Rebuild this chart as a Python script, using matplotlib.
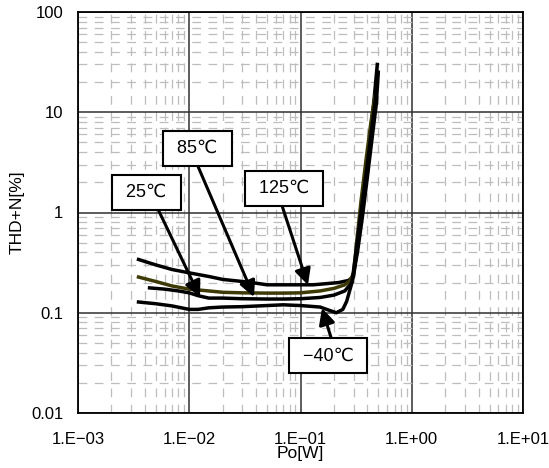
import matplotlib
matplotlib.use("Agg")
import matplotlib.pyplot as plt
from matplotlib.ticker import FixedLocator, FixedFormatter, LogLocator, NullFormatter

plt.rcParams['font.family'] = ['Liberation Sans', 'DejaVu Sans']

# ---- data ----
x_125 = [0.0035, 0.005, 0.007, 0.01, 0.015, 0.02, 0.03, 0.04, 0.05, 0.07, 0.1, 0.13, 0.17, 0.22, 0.27, 0.30, 0.32, 0.34, 0.37, 0.40, 0.43, 0.46, 0.49]
y_125 = [0.34, 0.30, 0.27, 0.25, 0.23, 0.215, 0.205, 0.197, 0.19, 0.19, 0.19, 0.19, 0.195, 0.20, 0.21, 0.23, 0.4, 0.8, 1.6, 3.5, 7, 14, 30]

x_85 = [0.0035, 0.005, 0.007, 0.01, 0.015, 0.02, 0.03, 0.05, 0.07, 0.1, 0.15, 0.2, 0.25, 0.28, 0.30, 0.325, 0.35, 0.39, 0.43, 0.47]
y_85 = [0.227, 0.205, 0.185, 0.172, 0.165, 0.16, 0.158, 0.157, 0.157, 0.158, 0.165, 0.175, 0.19, 0.21, 0.25, 0.6, 1.3, 3.5, 8, 15]

x_25 = [0.0044, 0.006, 0.008, 0.01, 0.012, 0.015, 0.02, 0.03, 0.05, 0.07, 0.1, 0.15, 0.2, 0.25, 0.29, 0.31, 0.345, 0.39, 0.43, 0.47, 0.495]
y_25 = [0.177, 0.172, 0.165, 0.158, 0.148, 0.14, 0.14, 0.138, 0.137, 0.137, 0.138, 0.142, 0.15, 0.165, 0.2, 0.35, 0.9, 2.5, 6, 13, 25]

x_m40 = [0.0035, 0.005, 0.007, 0.01, 0.012, 0.015, 0.02, 0.03, 0.05, 0.07, 0.1, 0.15, 0.18, 0.21, 0.24, 0.26, 0.29, 0.325, 0.36, 0.40, 0.44, 0.48, 0.50]
y_m40 = [0.128, 0.123, 0.117, 0.108, 0.108, 0.112, 0.114, 0.115, 0.118, 0.12, 0.118, 0.114, 0.106, 0.100, 0.108, 0.13, 0.2, 0.4, 0.9, 2.3, 5.5, 12, 25]

x_ticks = [1e-3, 1e-2, 1e-1, 1e0, 1e1]
x_tick_labels = ["1.E\u221203", "1.E\u221202", "1.E\u221201", "1.E+00", "1.E+01"]
y_ticks = [0.01, 0.1, 1, 10, 100]
y_tick_labels = ["0.01", "0.1", "1", "10", "100"]

# label text, text position, arrow tip, relpos of arrow start on box
labels = ["25\u2103", "85\u2103", "125\u2103", "\u221240\u2103"]
label_xy = [(0.00413, 1.585), (0.01186, 4.35), (0.0711, 1.734), (0.1766, 0.0371)]
tip_xy = [(0.0125, 0.1435), (0.0382, 0.1435), (0.1167, 0.189), (0.156, 0.111)]
relpos = [(0.65, 0.0), (0.43, 0.0), (0.42, 0.0), (0.6, 1.0)]

# ---- figure ----
fig = plt.figure(figsize=(5.49, 4.68), dpi=100)
ax = fig.add_axes([78/549, 55/468, 445/549, 401/468])
ax.set_xscale('log')
ax.set_yscale('log')
ax.set_xlim(1e-3, 1e1)
ax.set_ylim(0.01, 100)

ax.xaxis.set_major_locator(FixedLocator(x_ticks))
ax.xaxis.set_major_formatter(FixedFormatter(x_tick_labels))
ax.yaxis.set_major_locator(FixedLocator(y_ticks))
ax.yaxis.set_major_formatter(FixedFormatter(y_tick_labels))
ax.xaxis.set_minor_locator(LogLocator(base=10, subs=range(2, 10), numticks=20))
ax.yaxis.set_minor_locator(LogLocator(base=10, subs=range(2, 10), numticks=20))
ax.xaxis.set_minor_formatter(NullFormatter())
ax.yaxis.set_minor_formatter(NullFormatter())

ax.grid(which='minor', color='#bdbdbd', lw=0.9, linestyle=(0, (7, 6)))
ax.grid(which='major', color='#303030', lw=1.1, linestyle='-')
ax.tick_params(which='both', length=0)
ax.tick_params(axis='x', pad=14, labelsize=12)
ax.tick_params(axis='y', pad=10.5, labelsize=12)
for s in ax.spines.values():
    s.set_linewidth(1.3)
    s.set_color('black')
ax.set_axisbelow(True)

ax.plot(x_125, y_125, color='black', lw=2.5, zorder=3)
ax.plot(x_85, y_85, color='#3d3a05', lw=2.5, zorder=3)
ax.plot(x_25, y_25, color='black', lw=2.5, zorder=3)
ax.plot(x_m40, y_m40, color='black', lw=2.5, zorder=3)

for txt, xy, tip, rp in zip(labels, label_xy, tip_xy, relpos):
    ax.annotate(" " + txt + " ", xy=tip, xytext=xy, ha='center', va='center', fontsize=13,
                bbox=dict(boxstyle='square,pad=0.5', fc='white', ec='black', lw=1.5),
                arrowprops=dict(arrowstyle='-|>', color='black', lw=2.2, mutation_scale=24,
                                relpos=rp, shrinkA=0, shrinkB=0),
                zorder=5)

ax.set_xlabel("Po[W]", fontsize=12.5, labelpad=-1)
ax.set_ylabel("THD+N[%]", fontsize=12.5, labelpad=5)

fig.savefig("out.png", dpi=100)
